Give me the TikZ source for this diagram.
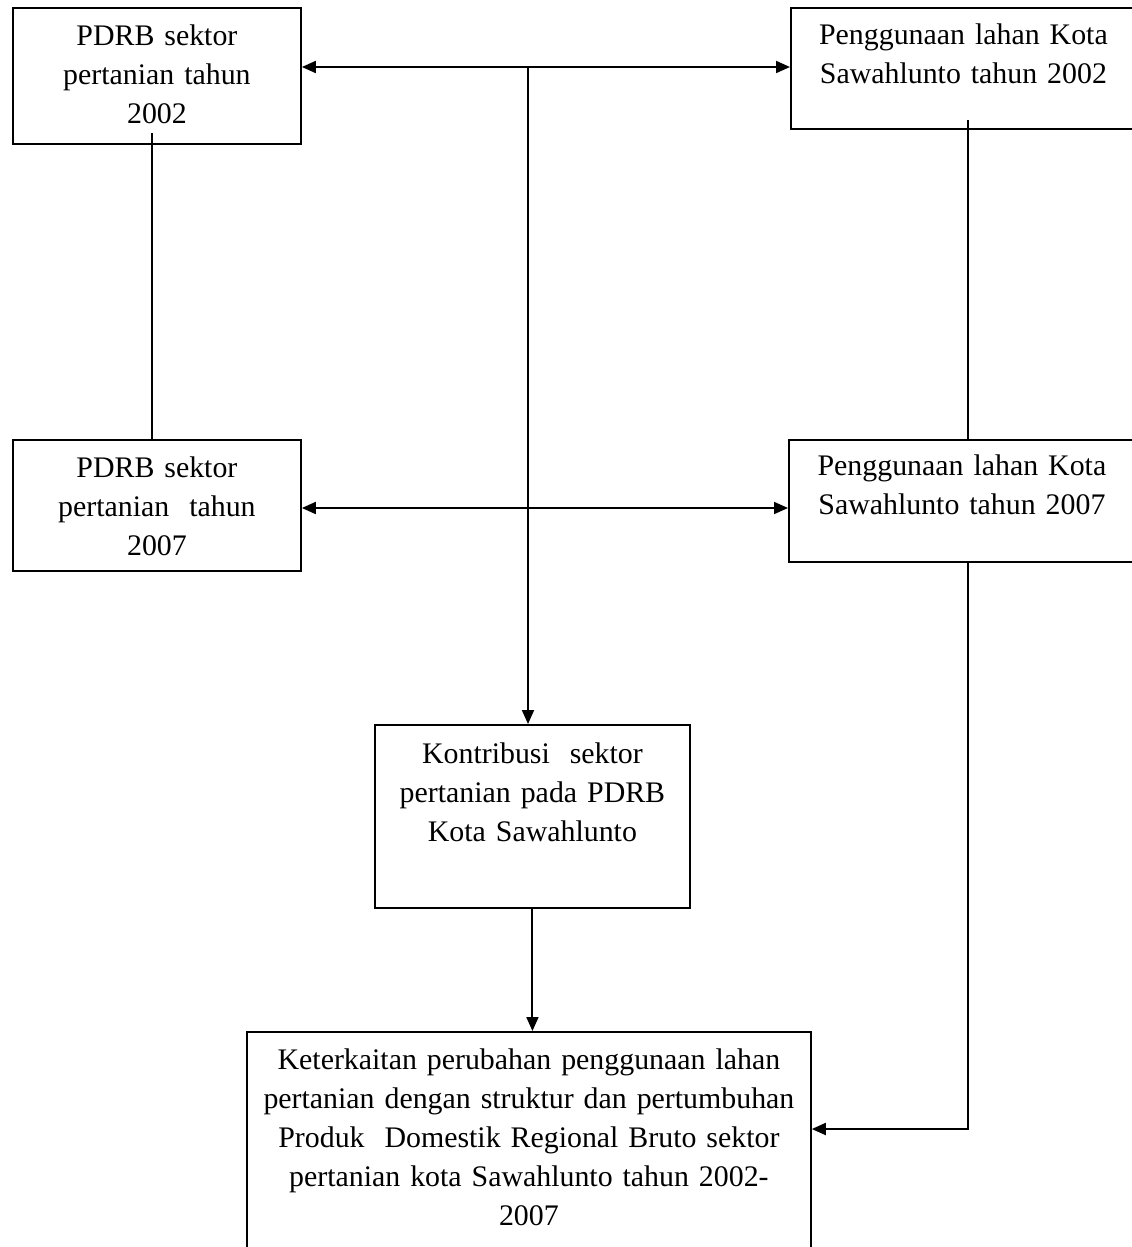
\documentclass[tikz,border=0pt]{standalone}
\usepackage{fontspec}
\setmainfont{Liberation Serif}
\usepackage{tikz}
\usetikzlibrary{positioning,calc}
\usetikzlibrary{arrows.meta}
\tikzstyle{kotak} = [rectangle, draw=black, line width=1.1pt, anchor=north west, inner sep=0pt, align=center]
\tikzstyle{garis} = [line width=1.1pt]
\tikzstyle{panah} = [line width=1.1pt, -{Triangle[length=0.28cm,width=0.24cm]}]
\tikzstyle{panahdua} = [line width=1.1pt, {Triangle[length=0.28cm,width=0.24cm]}-{Triangle[length=0.28cm,width=0.24cm]}]

\begin{document}
\begin{tikzpicture}[x=0.02cm, y=-0.02cm, font=\fontsize{17}{22.2}\selectfont]
	\useasboundingbox (0,0) rectangle (1132,1247);
	\clip (0,0) rectangle (1132,1247);
	\node[kotak, text width=5.76cm, text height=0.76cm, text depth=1.96cm] (p02) at (12,7) {PDRB sektor\\ pertanian tahun\\ 2002};
	\node[kotak, text width=6.9cm, text height=0.74cm, text depth=1.68cm] (g02) at (790,7) {Penggunaan lahan Kota\\ Sawahlunto tahun 2002};
	\node[kotak, text width=5.76cm, text height=0.76cm, text depth=1.86cm] (p07) at (12,439) {PDRB sektor\\ pertanian\ \ tahun\\ 2007};
	\node[kotak, text width=6.92cm, text height=0.72cm, text depth=1.72cm] (g07) at (788,439) {Penggunaan lahan Kota\\ Sawahlunto tahun 2007};
	\node[kotak, text width=6.3cm, text height=0.78cm, text depth=2.88cm] (kon) at (374,724) {Kontribusi\ \ sektor\\ pertanian pada PDRB\\ Kota Sawahlunto};
	\node[kotak, text width=11.28cm, text height=0.76cm, text depth=4.8cm] (ket) at (246,1031) {Keterkaitan perubahan penggunaan lahan\\ pertanian dengan struktur dan pertumbuhan\\ Produk\ \ Domestik Regional Bruto sektor\\ pertanian kota Sawahlunto tahun 2002-\\ 2007};
	\coordinate (atas) at (528,67);
	\coordinate (tengah) at (528,508);
	\coordinate (kiri) at (152,133);
	\coordinate (kanan) at (968,1129);
	\draw[panahdua] (atas -| p02.east) -- (atas -| g02.west);
	\draw[panahdua] (tengah -| p07.east) -- (tengah -| g07.west);
	\draw[panah] (atas) -- (atas |- kon.north);
	\draw[garis] (kiri) -- (kiri |- p07.north);
	\draw[garis] ([yshift=0.2cm]g02.south -| kanan) -- (g07.north -| kanan);
	\draw[panah] (g07.south -| kanan) -- (kanan) -- (kanan -| ket.east);
	\draw[panah] (kon.south) -- (kon.south |- ket.north);
\end{tikzpicture}
\end{document}
